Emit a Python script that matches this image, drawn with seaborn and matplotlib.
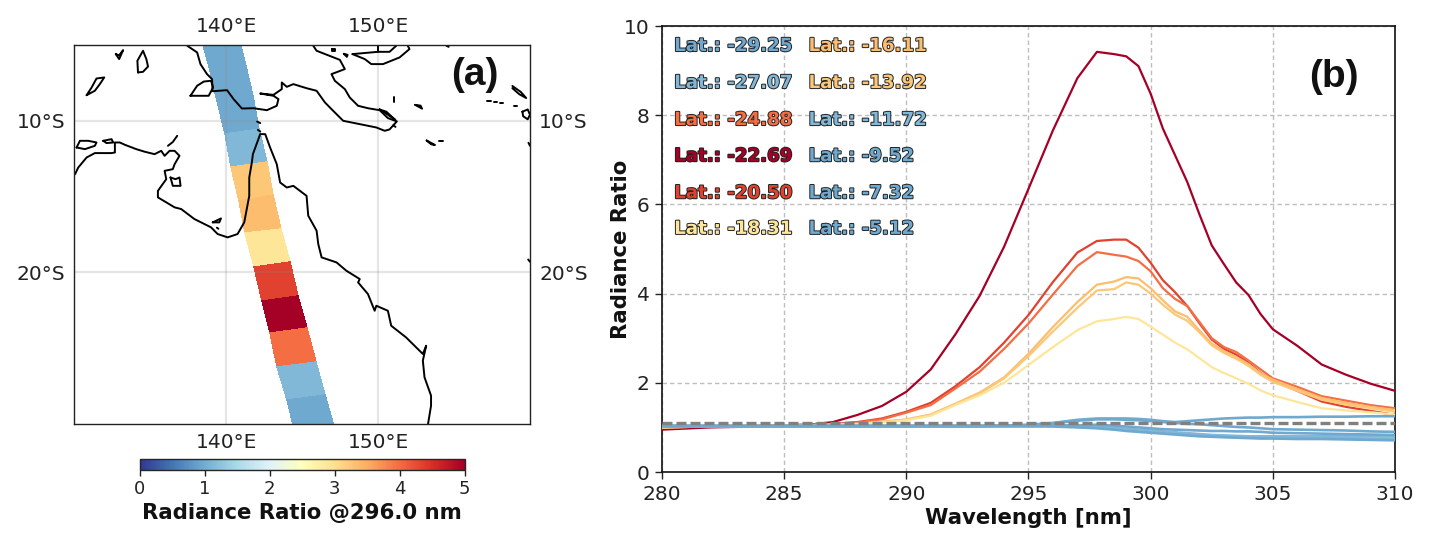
import numpy as np
import pandas as pd
import matplotlib
matplotlib.use("Agg")
import matplotlib.pyplot as plt
import matplotlib.patheffects as pe
from matplotlib.colors import Normalize
from matplotlib.cm import ScalarMappable
import seaborn as sns

# ---------- data ----------
latitudes = [-5.12, -7.32, -9.52, -11.72, -13.92, -16.11, -18.31, -20.50, -22.69, -24.88, -27.07, -29.25]
ratio_296 = [0.96, 0.96, 0.96, 1.12, 3.25, 3.35, 2.9, 4.35, 5.2, 4.0, 1.12, 0.96]
swath_left_lon = [138.32, 138.86, 139.41, 139.91, 140.33, 140.83, 141.22, 141.83, 142.36, 142.90, 143.38, 144.00, 144.54]
swath_left_lat = [-4.29, -6.48, -8.68, -10.88, -13.08, -15.27, -17.43, -19.63, -21.87, -24.00, -26.22, -28.40, -30.59]
swath_right_lon = [140.72, 141.22, 141.75, 142.18, 142.69, 143.12, 143.62, 144.21, 144.76, 145.35, 145.92, 146.51, 147.23]
swath_right_lat = [-3.96, -6.15, -8.35, -10.55, -12.75, -14.90, -17.14, -19.30, -21.54, -23.69, -25.89, -28.09, -30.59]

coast_newguinea = [(137.45,-5.05),(138.10,-5.49),(138.32,-6.26),(138.75,-6.92),(139.08,-7.25),(139.12,-8.05),(140.07,-7.98),
    (140.50,-8.57),(141.05,-9.19),(141.81,-9.17),(142.69,-9.30),(143.34,-9.01),(143.45,-8.57),(143.12,-8.35),(142.25,-8.20),
    (143.12,-8.29),(143.67,-7.91),(143.67,-7.47),(144.00,-7.76),(144.43,-7.58),(145.30,-7.85),(145.96,-8.02),(146.51,-8.79),
    (146.94,-9.23),(147.71,-10.00),(148.80,-10.22),(149.89,-10.44),(150.44,-10.66),(150.76,-10.57),(151.24,-10.04),(150.65,-9.82),
    (150.11,-9.30),(149.34,-9.17),(148.69,-9.01),(148.14,-8.46),(147.82,-7.91),(147.16,-7.36),(146.94,-6.92),(147.82,-6.59),
    (147.49,-5.98),(145.96,-5.38),(145.74,-5.05)]
coast_australia = [(130.07,-13.52),(130.28,-13.08),(130.83,-12.42),(131.37,-12.13),(132.47,-12.13),(132.69,-12.09),(132.69,-11.43),
    (133.01,-11.43),(133.34,-11.58),(134.10,-11.87),(134.65,-12.04),(135.30,-12.20),(135.74,-11.98),(135.96,-12.31),(136.29,-11.98),
    (136.62,-11.98),(136.94,-12.31),(136.62,-12.86),(136.50,-13.19),(135.96,-13.30),(136.07,-13.85),(135.52,-14.62),(135.52,-15.05),
    (136.62,-15.71),(137.05,-15.82),(137.92,-16.48),(139.02,-17.03),(139.45,-17.47),(140.11,-17.69),(140.76,-17.47),(141.20,-16.70),
    (141.53,-14.95),(141.53,-13.74),(141.70,-12.75),(141.77,-12.20),(142.25,-10.88),(142.58,-10.88),(142.90,-11.76),(143.34,-12.86),
    (143.56,-14.07),(144.00,-14.40),(144.43,-14.29),(145.30,-14.95),(145.41,-16.26),(145.96,-17.25),(146.07,-18.13),(146.29,-19.01),
    (147.27,-19.34),(147.92,-19.89),(148.80,-20.44),(148.69,-20.66),(149.34,-21.43),(149.78,-22.53),(149.89,-22.20),(150.65,-22.53),
    (150.87,-23.52),(151.85,-24.29),(152.95,-25.38),(153.17,-24.84),(152.95,-25.82),(153.06,-26.92),(153.49,-28.13),(153.49,-28.79),(153.28,-30.07)]
coast_others = [
    [(148.32,-5.60),(149.13,-5.93),(149.56,-6.26),(150.33,-6.26),(151.42,-5.82),(152.07,-5.27),(151.96,-5.05)],
    [(148.32,-5.60),(150.00,-5.45),(150.00,-5.05)],
    [(150.00,-5.45),(150.76,-5.45),(151.20,-5.05)],
    [(137.66,-8.35),(138.10,-7.69),(138.54,-7.41),(139.02,-7.36),(139.15,-7.80),(138.86,-8.35),(137.66,-8.35)],
    [(132.75,-5.60),(132.97,-5.93),(133.23,-5.34),(132.97,-5.68),(132.75,-5.60)],
    [(134.21,-6.81),(134.17,-6.04),(134.54,-5.38),(134.76,-5.93),(134.87,-6.42),(134.54,-6.77),(134.21,-6.81)],
    [(130.83,-8.31),(131.16,-7.80),(131.48,-7.21),(131.99,-7.14),(131.70,-7.58),(131.37,-8.02),(130.83,-8.31)],
    [(130.17,-11.76),(130.39,-11.32),(130.94,-11.32),(131.48,-11.43),(131.37,-11.65),(130.72,-11.87),(130.17,-11.76)],
    [(131.92,-11.32),(132.47,-11.21),(132.58,-11.43),(132.14,-11.47),(131.92,-11.32)],
    [(136.18,-11.65),(136.50,-11.40),(136.79,-10.99)],
    [(136.35,-13.74),(136.68,-13.85),(136.94,-13.74),(137.01,-14.29),(136.50,-14.29),(136.35,-13.74)],
    [(139.13,-16.70),(139.67,-16.44),(139.56,-16.70),(139.13,-16.70)],
    [(139.40,-17.05),(139.50,-17.12)],
    [(142.05,-10.05),(142.25,-10.15)],
    [(142.10,-10.60),(142.25,-10.70)],
    [(147.00,-5.25),(147.20,-5.25),(147.20,-5.38),(147.00,-5.38),(147.00,-5.25)],
    [(147.75,-5.58),(148.00,-5.65),(147.95,-5.78),(147.75,-5.58)],
    [(154.50,-5.05),(154.65,-5.12)],
    [(151.03,-8.40),(151.03,-8.75)],
    [(152.45,-8.95),(152.80,-9.00),(152.90,-9.20),(152.45,-8.95)],
    [(150.10,-9.25),(150.55,-9.40),(151.15,-9.95),(150.65,-9.60),(150.10,-9.25)],
    [(151.00,-10.30),(151.15,-10.40)],
    [(153.20,-11.30),(153.50,-11.55),(153.75,-11.60),(153.20,-11.30)],
    [(154.00,-11.36),(154.25,-11.36)],
    [(157.20,-8.72),(157.45,-8.72)],
    [(157.60,-8.76),(157.85,-8.76)],
    [(158.00,-8.80),(158.25,-8.80)],
    [(158.98,-9.05),(159.15,-9.05)],
    [(158.84,-7.70),(159.40,-8.10),(159.75,-8.50),(159.30,-8.25),(158.84,-7.85)],
    [(159.50,-9.40),(159.85,-9.25),(160.00,-9.60),(159.85,-9.90),(159.55,-9.70),(159.50,-9.40)],
    [(159.90,-11.45),(160.00,-11.65)],
    [(159.88,-19.15),(160.00,-19.30)],
]

wavelength = [280, 282, 284, 285, 286, 287, 288, 289, 290, 291, 292, 293, 294, 295, 296, 297, 297.8, 298.5, 299, 299.5,
              300, 300.5, 301, 301.5, 302, 302.5, 303, 303.5, 304, 304.5, 305, 306, 307, 308, 309, 310]
spec_22_69 = [0.95, 1.00, 1.02, 1.04, 1.06, 1.12, 1.28, 1.48, 1.80, 2.30, 3.08, 3.95, 5.05, 6.35, 7.66, 8.83, 9.42, 9.37, 9.32, 9.10,
              8.48, 7.70, 7.10, 6.50, 5.77, 5.08, 4.66, 4.25, 3.97, 3.54, 3.20, 2.83, 2.41, 2.18, 1.98, 1.82]
spec_20_50 = [1.00, 1.02, 1.03, 1.05, 1.06, 1.08, 1.12, 1.20, 1.35, 1.55, 1.92, 2.35, 2.90, 3.52, 4.26, 4.92, 5.18, 5.21, 5.21, 5.03,
              4.69, 4.30, 4.03, 3.72, 3.33, 2.97, 2.76, 2.63, 2.45, 2.22, 2.04, 1.82, 1.58, 1.46, 1.37, 1.28]
spec_24_88 = [1.00, 1.02, 1.03, 1.05, 1.06, 1.08, 1.11, 1.18, 1.33, 1.50, 1.87, 2.25, 2.76, 3.33, 3.98, 4.62, 4.93, 4.87, 4.83, 4.73,
              4.50, 4.12, 3.88, 3.72, 3.36, 3.00, 2.80, 2.69, 2.50, 2.30, 2.10, 1.91, 1.70, 1.60, 1.50, 1.43]
spec_16_11 = [1.00, 1.02, 1.03, 1.04, 1.05, 1.06, 1.08, 1.13, 1.18, 1.29, 1.53, 1.78, 2.12, 2.65, 3.25, 3.81, 4.20, 4.27, 4.37, 4.34,
              4.12, 3.85, 3.60, 3.48, 3.17, 2.88, 2.71, 2.58, 2.42, 2.21, 2.07, 1.86, 1.66, 1.55, 1.46, 1.39]
spec_13_92 = [1.00, 1.02, 1.03, 1.04, 1.05, 1.06, 1.08, 1.12, 1.17, 1.28, 1.52, 1.76, 2.10, 2.60, 3.15, 3.68, 4.07, 4.10, 4.25, 4.20,
              4.00, 3.75, 3.53, 3.39, 3.13, 2.84, 2.67, 2.54, 2.38, 2.18, 2.02, 1.82, 1.62, 1.51, 1.43, 1.35]
spec_18_31 = [1.00, 1.02, 1.03, 1.04, 1.05, 1.05, 1.07, 1.11, 1.16, 1.26, 1.50, 1.72, 2.00, 2.40, 2.80, 3.18, 3.38, 3.43, 3.48, 3.43,
              3.26, 3.08, 2.90, 2.75, 2.55, 2.35, 2.22, 2.10, 1.98, 1.83, 1.72, 1.57, 1.43, 1.38, 1.34, 1.29]
spec_05_12 = [1.03, 1.03, 1.03, 1.03, 1.03, 1.03, 1.03, 1.03, 1.03, 1.03, 1.03, 1.03, 1.04, 1.06, 1.10, 1.17, 1.20, 1.20, 1.20, 1.19,
              1.17, 1.14, 1.12, 1.14, 1.16, 1.18, 1.20, 1.21, 1.22, 1.22, 1.23, 1.23, 1.24, 1.24, 1.25, 1.25]
spec_07_32 = [1.03, 1.03, 1.03, 1.03, 1.03, 1.03, 1.03, 1.03, 1.03, 1.03, 1.03, 1.03, 1.04, 1.05, 1.09, 1.15, 1.18, 1.18, 1.17, 1.16,
              1.14, 1.12, 1.10, 1.08, 1.07, 1.05, 1.03, 1.01, 1.00, 0.98, 0.96, 0.95, 0.94, 0.93, 0.91, 0.90]
spec_09_52 = [1.03, 1.03, 1.03, 1.03, 1.03, 1.03, 1.03, 1.03, 1.03, 1.03, 1.03, 1.03, 1.03, 1.03, 1.04, 1.04, 1.06, 1.04, 1.02, 1.00,
              0.98, 0.96, 0.95, 0.94, 0.93, 0.92, 0.92, 0.91, 0.91, 0.90, 0.88, 0.87, 0.86, 0.85, 0.84, 0.83]
spec_11_72 = [1.03, 1.03, 1.03, 1.03, 1.03, 1.03, 1.03, 1.03, 1.03, 1.03, 1.03, 1.03, 1.03, 1.03, 1.04, 1.05, 1.03, 1.00, 0.97, 0.95,
              0.93, 0.91, 0.89, 0.87, 0.85, 0.83, 0.82, 0.81, 0.80, 0.80, 0.80, 0.80, 0.80, 0.80, 0.80, 0.80]
spec_27_07 = [1.03, 1.03, 1.03, 1.03, 1.03, 1.03, 1.03, 1.03, 1.03, 1.03, 1.03, 1.03, 1.03, 1.03, 1.03, 1.02, 1.00, 0.97, 0.95, 0.93,
              0.90, 0.88, 0.86, 0.84, 0.82, 0.80, 0.79, 0.78, 0.78, 0.77, 0.77, 0.77, 0.76, 0.76, 0.75, 0.75]
spec_29_25 = [1.03, 1.03, 1.03, 1.03, 1.03, 1.03, 1.03, 1.03, 1.03, 1.03, 1.03, 1.03, 1.03, 1.03, 1.02, 1.00, 0.98, 0.95, 0.92, 0.90,
              0.88, 0.86, 0.84, 0.82, 0.80, 0.79, 0.78, 0.77, 0.76, 0.75, 0.75, 0.74, 0.74, 0.73, 0.72, 0.71]
spectra = {-29.25: spec_29_25, -27.07: spec_27_07, -24.88: spec_24_88, -22.69: spec_22_69, -20.50: spec_20_50, -18.31: spec_18_31,
           -16.11: spec_16_11, -13.92: spec_13_92, -11.72: spec_11_72, -9.52: spec_09_52, -7.32: spec_07_32, -5.12: spec_05_12}

column_one = [-29.25, -27.07, -24.88, -22.69, -20.50, -18.31]
column_two = [-16.11, -13.92, -11.72, -9.52, -7.32, -5.12]
label_heights = [9.55, 8.72, 7.89, 7.08, 6.25, 5.45]

# ---------- drawing ----------
sns.set_theme(style="white")
plt.rcParams["font.family"] = ["DejaVu Sans"]
W, H = 1430, 547
fig = plt.figure(figsize=(W / 100, H / 100), dpi=100)
def box(l, t, r, b):
    return [l / W, 1 - b / H, (r - l) / W, (b - t) / H]

cmap = plt.get_cmap("RdYlBu_r")
norm = Normalize(0, 5)
color_of = dict(zip(latitudes, cmap(norm(ratio_296))))

# --- map ---
ax = fig.add_axes(box(74, 45, 530, 424))
X = np.column_stack([swath_left_lon, swath_right_lon])
Y = np.column_stack([swath_left_lat, swath_right_lat])
C = np.array(ratio_296).reshape(-1, 1)
ax.pcolormesh(X, Y, C, cmap=cmap, norm=norm, shading="flat", edgecolor="face", linewidth=0.2, zorder=1)
for seg in [coast_newguinea, coast_australia] + coast_others:
    xs, ys = zip(*seg)
    ax.plot(xs, ys, color="black", lw=1.4, zorder=3, solid_joinstyle="round")
ax.set_xlim(130, 160)
ax.set_ylim(-30, -5)
ax.set_xticks([140, 150], ["140°E", "150°E"])
ax.set_yticks([-10, -20], ["10°S", "20°S"])
ax.tick_params(which="both", top=False, bottom=False, left=False, right=False,
               labeltop=True, labelbottom=True, labelleft=True, labelright=True, labelsize=14.5, pad=0.5, colors="#222222")
ax.grid(True, color="#8a8a8a", alpha=0.22, lw=1.6, zorder=2)
ax.set_axisbelow(False)
for s in ax.spines.values():
    s.set_linewidth(1.0); s.set_color("#222222"); s.set_zorder(5)
ax.text(0.879, 0.92, "(a)", transform=ax.transAxes, ha="center", va="center", fontsize=28,
        fontweight="bold", family="Liberation Sans", color="#111111")

# --- colorbar ---
cax = fig.add_axes(box(139.5, 459, 464.5, 470))
cb = fig.colorbar(ScalarMappable(norm=norm, cmap=cmap), cax=cax, orientation="horizontal", ticks=[0, 1, 2, 3, 4, 5])
cb.ax.tick_params(labelsize=13, length=4, width=1, pad=3.5, colors="#222222", bottom=True)
cb.outline.set_linewidth(1.0)
cb.set_label("Radiance Ratio @296.0 nm", fontsize=15.3, fontweight="bold", labelpad=3.5, color="#111111")

# --- spectra ---
bx = fig.add_axes(box(662, 26, 1395, 472))
frame = pd.DataFrame({"wavelength": wavelength, **{str(k): v for k, v in spectra.items()}})
blue_first = sorted(spectra, key=lambda k: ratio_296[latitudes.index(k)], reverse=True)
for lat in blue_first:
    sns.lineplot(data=frame, x="wavelength", y=str(lat), ax=bx, color=color_of[lat], lw=1.9 if ratio_296[latitudes.index(lat)] < 2 else 1.6,
                 errorbar=None, sort=False, legend=False, zorder=3)
bx.axhline(1.1, color="gray", lw=2.4, ls=(0, (3.0, 1.2)), zorder=4)
bx.set_xlim(280, 310)
bx.set_ylim(0, 10)
bx.set_xticks(range(280, 311, 5))
bx.set_yticks(range(0, 11, 2))
bx.grid(True, color="#bdbdbd", ls=(0, (3.2, 2.2)), lw=1.0, zorder=0)
bx.tick_params(labelsize=14.5, length=5, width=1, left=True, bottom=True, pad=4, colors="#222222")
bx.set_xlabel("Wavelength [nm]", fontsize=15.3, fontweight="bold", labelpad=3.5, color="#111111")
bx.set_ylabel("Radiance Ratio", fontsize=15.3, fontweight="bold", labelpad=-5, color="#111111")
for s in bx.spines.values():
    s.set_linewidth(1.2); s.set_color("#111111")
for x0, col in ((280.5, column_one), (286.0, column_two)):
    for y0, lat in zip(label_heights, col):
        bx.text(x0, y0, f"Lat.: {lat:.2f}", color=color_of[lat], fontsize=13.1, fontweight="bold", ha="left", va="center",
                path_effects=[pe.withStroke(linewidth=1.4, foreground="#222222")], zorder=6)
bx.text(307.5, 8.86, "(b)", ha="center", va="center", fontsize=28, fontweight="bold", family="Liberation Sans", color="#111111")

fig.savefig("out.png", dpi=100)
